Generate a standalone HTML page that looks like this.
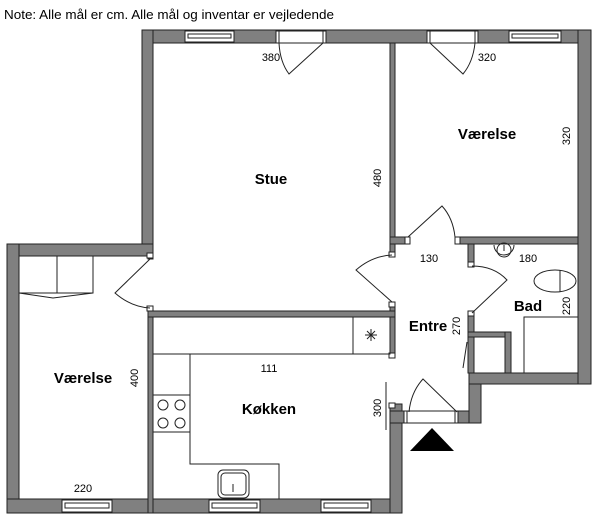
<!DOCTYPE html>
<html><head><meta charset="utf-8"><style>
html,body{margin:0;padding:0;background:#fff;}
svg{display:block;}
text{font-family:"Liberation Sans",sans-serif;fill:#000;}
.b{font-weight:bold;font-size:15px;}
.s{font-size:11px;}
</style></head><body>
<svg width="600" height="522" viewBox="0 0 600 522" xmlns="http://www.w3.org/2000/svg">
<text x="4" y="19" font-size="12.5" textLength="330" lengthAdjust="spacingAndGlyphs">Note: Alle mål er cm. Alle mål og inventar er vejledende</text>
<g fill="#808080" stroke="#222" stroke-width="1">
<!-- outer walls -->
<rect x="142" y="30" width="449" height="13"/>
<rect x="142" y="30" width="11" height="226"/>
<rect x="7" y="244" width="146" height="12"/>
<rect x="7" y="244" width="12" height="269"/>
<rect x="7" y="499" width="395" height="14"/>
<rect x="390" y="404" width="12" height="109"/>
<rect x="390" y="411" width="91" height="12"/>
<rect x="469" y="373" width="12" height="50"/>
<rect x="469" y="373" width="122" height="11"/>
<rect x="578" y="30" width="13" height="354"/>
<!-- interior -->
<rect x="390" y="43" width="5" height="212"/>
<rect x="390" y="237" width="19" height="7"/>
<rect x="456" y="237" width="122" height="7"/>
<rect x="390" y="303" width="5" height="54"/>
<rect x="148" y="256" width="5" height="3"/>
<rect x="148" y="309" width="5" height="204"/>
<rect x="148" y="311" width="247" height="6"/>
<rect x="468" y="244" width="6" height="21"/>
<rect x="468" y="313" width="6" height="60"/>
<rect x="468" y="332" width="43" height="5"/>
<rect x="505" y="332" width="6" height="41"/>
</g>
<!-- caps -->
<g fill="#fff" stroke="#222" stroke-width="1">
<rect x="147" y="253" width="6" height="5"/><rect x="147" y="306" width="6" height="5"/>
<rect x="389" y="252" width="6" height="5"/><rect x="389" y="302" width="6" height="5"/>
<rect x="389" y="353" width="6" height="5"/><rect x="389" y="403" width="6" height="5"/>
<rect x="405" y="237" width="5" height="7"/><rect x="455" y="237" width="5" height="7"/>
<rect x="468" y="262" width="6" height="5"/><rect x="468" y="311" width="6" height="5"/>
<!-- windows -->
<rect x="185" y="31" width="49" height="11"/><rect x="188" y="34" width="43" height="4"/>
<rect x="509" y="31" width="52" height="11"/><rect x="512" y="34" width="46" height="4"/>
<rect x="276" y="31" width="50" height="12"/><rect x="427" y="31" width="51" height="12"/>
<rect x="62" y="500" width="50" height="12"/><rect x="65" y="503" width="44" height="5"/>
<rect x="209" y="500" width="51" height="12"/><rect x="212" y="503" width="45" height="5"/>
<rect x="321" y="500" width="50" height="12"/><rect x="324" y="503" width="44" height="5"/>
<rect x="404" y="411" width="54" height="12"/>
</g>
<g fill="none" stroke="#222" stroke-width="1">
<line x1="279" y1="31" x2="279" y2="43"/><line x1="323" y1="31" x2="323" y2="43"/>
<line x1="430" y1="31" x2="430" y2="43"/><line x1="475" y1="31" x2="475" y2="43"/>
<line x1="407" y1="411" x2="407" y2="423"/><line x1="455" y1="411" x2="455" y2="423"/>
<!-- doors -->
<path d="M323,43 L289,74 Q280,62 279,43"/>
<path d="M430,43 L463,74 Q473,62 475,43"/>
<path d="M408,237 L442,206 Q453,218 455,237"/>
<path d="M392,302 L356,270 Q372,256 392,255"/>
<path d="M472,313 L507,280 Q494,266 472,266"/>
<path d="M457,412 L423,379 Q411,392 409,412"/>
<path d="M150,259 L115,293 Q131,307 150,308"/>
<line x1="386" y1="382" x2="386" y2="430"/>
<line x1="467" y1="342" x2="463" y2="368"/>
<!-- wardrobe -->
<rect x="19" y="256" width="74" height="37"/>
<line x1="57" y1="256" x2="57" y2="293"/>
<path d="M19,293 L53,298 L93,293"/>
<!-- kitchen -->
<path d="M153,354 L390,354 M190,354 L190,464 L279,464 L279,499"/>
<rect x="353" y="317" width="37" height="37"/>
<path d="M365,335 L377,335 M371,329 L371,341 M367,331 L375,339 M375,331 L367,339"/>
<rect x="153" y="395" width="37" height="37"/>
<circle cx="163" cy="405" r="5"/><circle cx="180" cy="405" r="5"/>
<circle cx="163" cy="423" r="5"/><circle cx="180" cy="423" r="5"/>
<rect x="218" y="470" width="31" height="28" rx="5"/>
<rect x="221" y="473" width="25" height="22" rx="4"/>
<line x1="233" y1="484" x2="233" y2="492"/>
<!-- bath -->
<path d="M494,245 A10,10 0 0,0 514,245"/>
<circle cx="504" cy="250" r="7"/>
<line x1="504" y1="245" x2="504" y2="251"/>
<ellipse cx="555" cy="281" rx="21" ry="11"/>
<line x1="560" y1="270" x2="560" y2="292"/>
<rect x="524" y="317" width="54" height="56"/>
<rect x="474" y="337" width="31" height="36"/>
</g>
<polygon points="410,451 454,451 432,428" fill="#000"/>
<g text-anchor="middle">
<text class="b" x="271" y="184">Stue</text>
<text class="b" x="487" y="139">Værelse</text>
<text class="b" x="83" y="383">Værelse</text>
<text class="b" x="269" y="414">Køkken</text>
<text class="b" x="428" y="331">Entre</text>
<text class="b" x="528" y="311">Bad</text>
<text class="s" x="271" y="61">380</text>
<text class="s" x="487" y="61">320</text>
<text class="s" x="429" y="262">130</text>
<text class="s" x="528" y="262">180</text>
<text class="s" x="269" y="372">111</text>
<text class="s" x="83" y="492">220</text>
<text class="s" transform="translate(381,178) rotate(-90)">480</text>
<text class="s" transform="translate(570,136) rotate(-90)">320</text>
<text class="s" transform="translate(570,306) rotate(-90)">220</text>
<text class="s" transform="translate(460,326) rotate(-90)">270</text>
<text class="s" transform="translate(138,378) rotate(-90)">400</text>
<text class="s" transform="translate(381,408) rotate(-90)">300</text>
</g>
</svg>
</body></html>
